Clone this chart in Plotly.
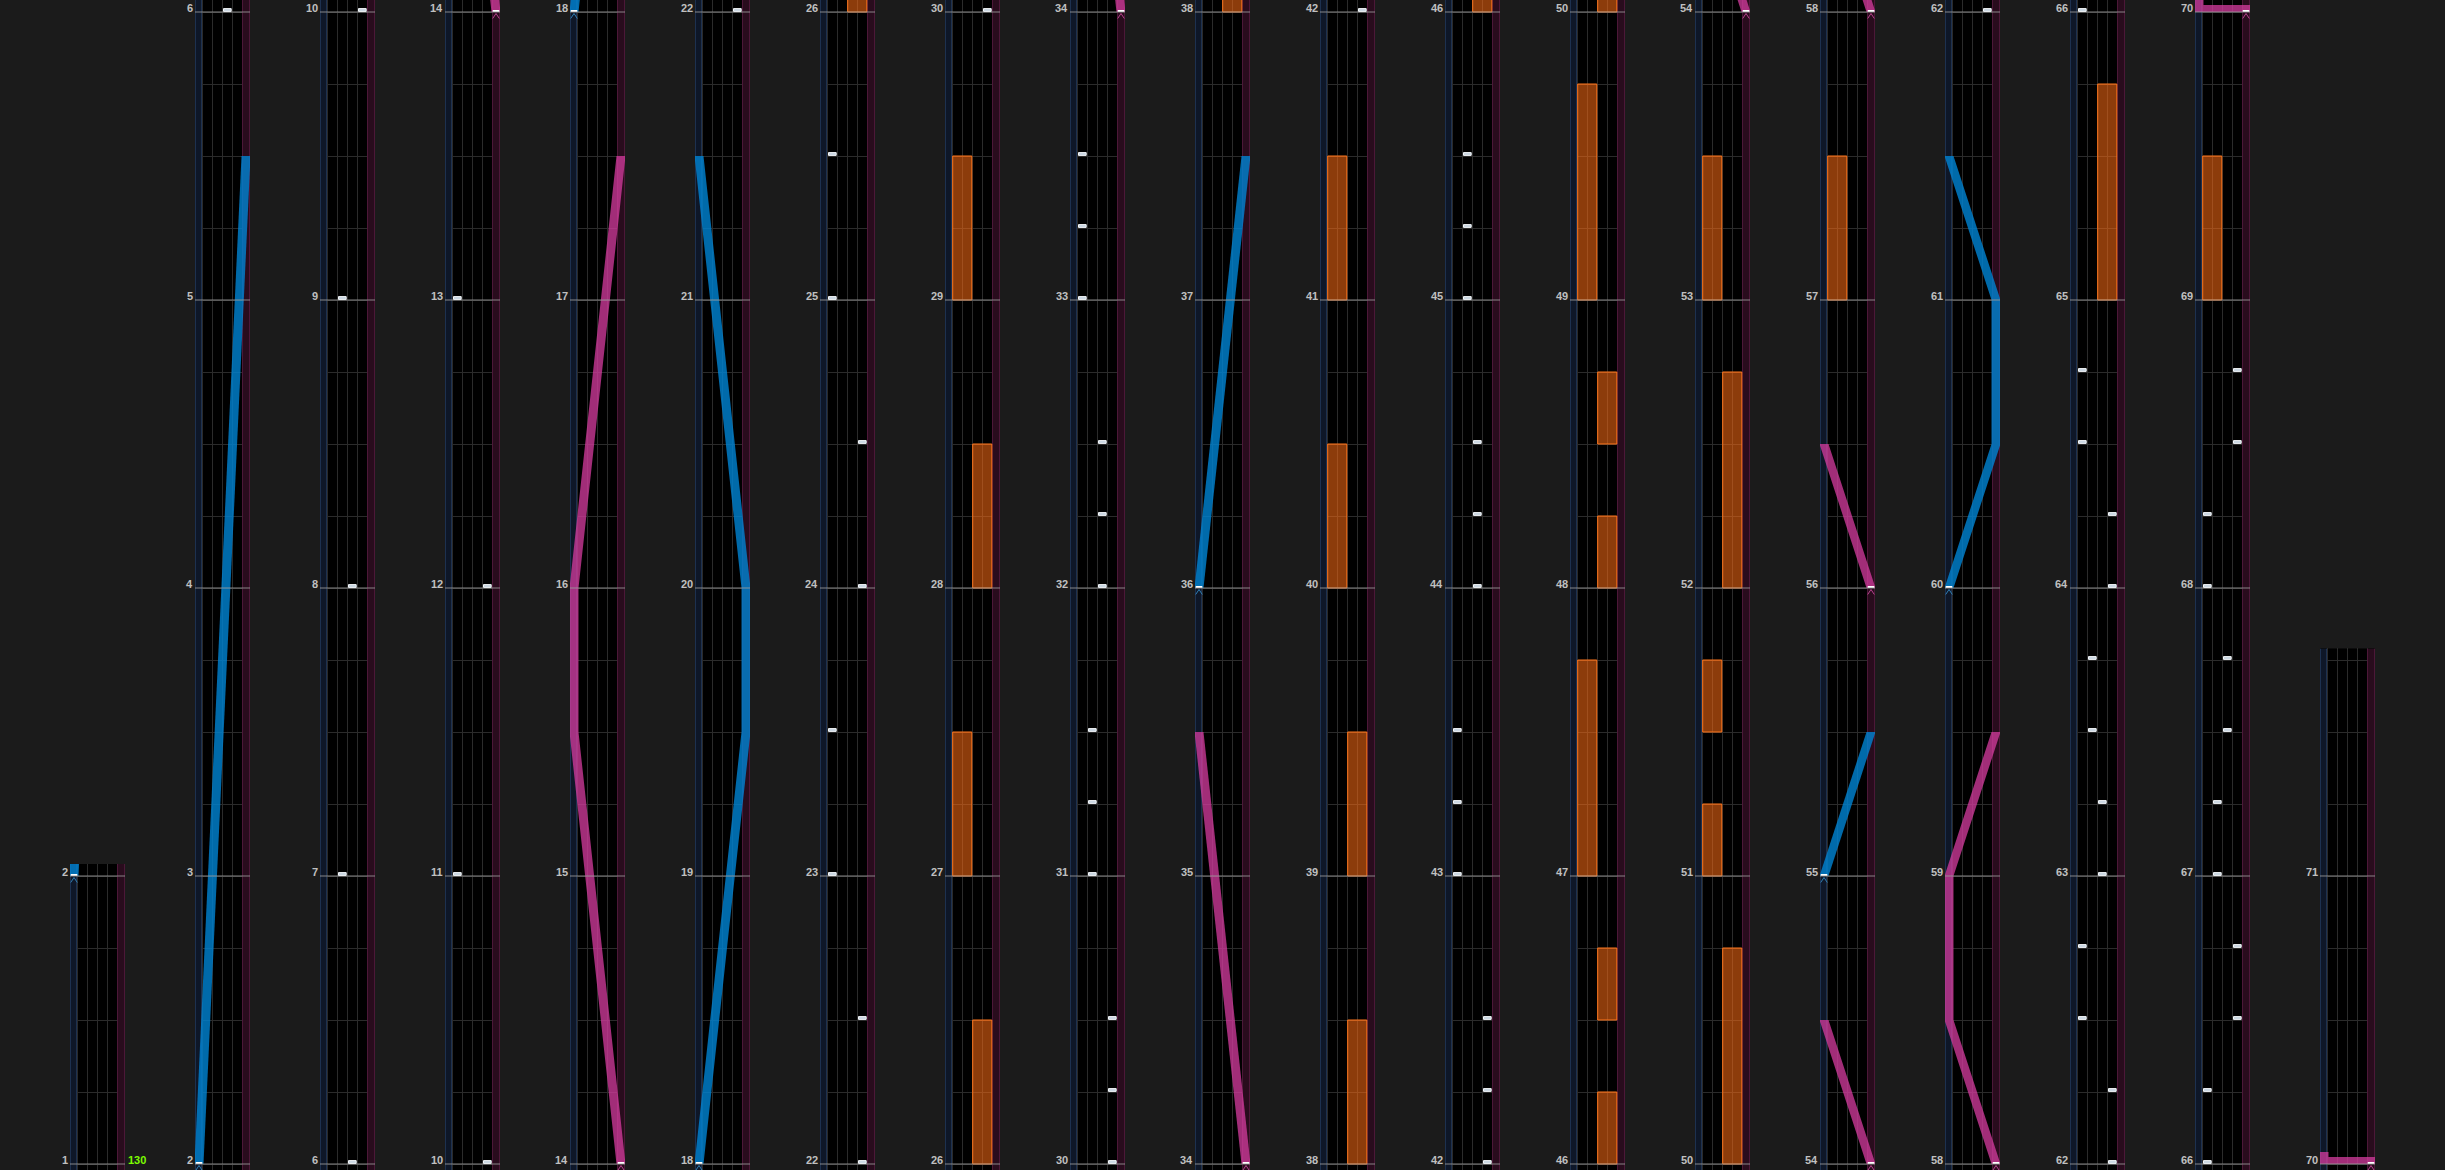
import plotly.graph_objects as go

# ---------------- data ----------------
# measure range shown by each column (bottom -> top)
col_start = [1, 2, 6, 10, 14, 18, 22, 26, 30, 34, 38, 42, 46, 50, 54, 58, 62, 66, 70]
col_end = [2, 6, 10, 14, 18, 22, 26, 30, 34, 38, 42, 46, 50, 54, 58, 62, 66, 70, 71.79]

# tempo label
bpm_measure = [1]
bpm_label = ["130"]

# BT chips: measure position and lane (0=A, 1=B, 2=C, 3=D)
bt_measure = [6, 7, 8, 9, 10, 11, 12, 13,
              22, 22.5, 23, 23.5, 24, 24.5, 25, 25.5,
              30, 30.25, 30.5, 31, 31.25, 31.5, 32, 32.25, 32.5, 33, 33.25, 33.5,
              42, 42.25, 42.5, 43, 43.25, 43.5, 44, 44.25, 44.5, 45, 45.25, 45.5,
              62, 62.25, 62.5, 62.75, 63, 63.25, 63.5, 63.75, 64, 64.25, 64.5, 64.75,
              66, 66.25, 66.5, 66.75, 67, 67.25, 67.5, 67.75, 68, 68.25, 68.5, 68.75]
bt_lane = [2, 1, 2, 1, 3, 0, 3, 0,
           3, 3, 0, 0, 3, 3, 0, 0,
           3, 3, 3, 1, 1, 1, 2, 2, 2, 0, 0, 0,
           3, 3, 3, 0, 0, 0, 2, 2, 2, 1, 1, 1,
           3, 3, 0, 0, 2, 2, 1, 1, 3, 3, 0, 0,
           0, 0, 3, 3, 1, 1, 2, 2, 0, 0, 3, 3]

# FX holds: start / end measure and side (0 = FX-L, 1 = FX-R)
fx_start = [26, 27, 28, 29, 38, 39, 40, 41, 46, 46.5, 47, 48, 48.5, 49,
            50, 51, 51.5, 52, 53, 57, 65, 69]
fx_end = [26.5, 27.5, 28.5, 29.5, 38.5, 39.5, 40.5, 41.5, 46.25, 46.75, 47.75, 48.25, 48.75, 49.75,
          50.75, 51.25, 51.75, 52.75, 53.5, 57.5, 65.75, 69.5]
fx_side = [1, 0, 1, 0, 1, 1, 0, 0, 1, 1, 0, 1, 1, 0,
           1, 0, 0, 1, 0, 0, 1, 0]

# lasers: measure points and knob positions (0 = left edge, 1 = right edge)
laser_l_m = [[2, 5.5], [18, 19.5, 20, 21.5], [36, 37.5], [55, 55.5], [60, 60.5, 61, 61.5]]
laser_l_p = [[0, 1], [0, 1, 1, 0], [0, 1], [0, 1], [0, 1, 1, 0]]
laser_r_m = [[14, 15.5, 16, 17.5], [34, 35.5], [54, 54.5], [56, 56.5], [58, 58.5, 59, 59.5],
             [70, 70, 70.0417]]
laser_r_p = [[1, 0, 0, 1], [1, 0], [1, 0], [1, 0], [1, 0, 0, 1], [1, 0, 0]]

# ---------------- style ----------------
W, H = 2445, 1170
PXM = 288.0                      # pixels per measure
COL_X0, COL_STEP, COL_W = 70, 125, 55
PAD_TOP, PAD_BOT = 12, 6
XL, XR = -0.7, 4.8               # lane units (BT lanes are 0..4)
HW = 0.45                        # laser half width
SLAM_H = 7 / PXM

BG = "#1b1b1b"
GRID = "#2b2b2b"
MEASURE_LINE = "rgba(155,155,155,0.85)"
LABEL = "#c0c0c0"
BLUE_FILL = "rgba(0,132,212,0.8)"
PINK_FILL = "rgba(215,60,160,0.75)"
BLUE_MARK = "#2f7fb5"
PINK_MARK = "#b8448f"
FX_FILL = "rgba(255,110,20,0.55)"
FX_LINE = "rgb(255,118,28)"
CHIP_FILL = "#c8d4e0"
CHIP_LINE = "#f4f7fa"
FONT = "Liberation Sans"


def xc(p):
    return -0.3 + 4.7 * p


def laser_poly(ms, ps):
    xs, ys = [], []
    for i in range(len(ms) - 1):
        ma, mb = ms[i], ms[i + 1]
        xa, xb = xc(ps[i]), xc(ps[i + 1])
        if mb == ma:
            lo, hi = min(xa, xb) - HW, max(xa, xb) + HW
            xs += [lo, hi, hi, lo, lo, None]
            ys += [ma, ma, ma + SLAM_H, ma + SLAM_H, ma, None]
        else:
            xs += [xa - HW, xa + HW, xb + HW, xb - HW, xa - HW, None]
            ys += [ma, ma, mb, mb, ma, None]
    return xs, ys


fig = go.Figure()
layout = {}
shapes = []
annotations = []

for k, (s, e) in enumerate(zip(col_start, col_end)):
    last = k == len(col_start) - 1
    lo = s - PAD_BOT / PXM
    hi = e if last else e + PAD_TOP / PXM
    px0 = COL_X0 + COL_STEP * k
    sfx = "" if k == 0 else str(k + 1)
    xr, yr = "x" + sfx, "y" + sfx
    ytop = min(1.0, (hi - lo) * PXM / H)

    layout["xaxis" + sfx] = dict(domain=[px0 / W, (px0 + COL_W) / W], range=[XL, XR], anchor=yr,
                                 tick0=0, dtick=1, showgrid=True, gridcolor=GRID, gridwidth=1,
                                 zeroline=False, showticklabels=False, ticks="", showline=False,
                                 fixedrange=True)
    layout["yaxis" + sfx] = dict(domain=[0, ytop], range=[lo, hi], anchor=xr,
                                 tick0=0, dtick=0.25, showgrid=True, gridcolor=GRID, gridwidth=1,
                                 zeroline=False, showticklabels=False, ticks="", showline=False,
                                 fixedrange=True)

    # laser lanes background and edges
    shapes.append(dict(type="rect", xref=xr, yref=yr, x0=XL, x1=0, y0=lo, y1=hi,
                       fillcolor="#0e1728", line=dict(width=0), layer="between"))
    shapes.append(dict(type="rect", xref=xr, yref=yr, x0=4, x1=XR, y0=lo, y1=hi,
                       fillcolor="#290c1d", line=dict(width=0), layer="between"))
    for xe, col in [(XL + 0.05, "#1d3150"), (-0.05, "#1d3150"), (4.05, "#4c1838"), (XR - 0.05, "#4c1838")]:
        shapes.append(dict(type="line", xref=xr, yref=yr, x0=xe, x1=xe, y0=lo, y1=hi,
                           line=dict(color=col, width=1), layer="between"))

    def inside(a, b):
        return b >= lo - 0.02 and a <= hi + 0.02

    # FX holds
    fxx, fxy = [], []
    for a, b, sd in zip(fx_start, fx_end, fx_side):
        if inside(a, b):
            x0, x1 = sd * 2 + 0.07, sd * 2 + 1.98
            fxx += [x0, x1, x1, x0, x0, None]
            fxy += [a, a, b, b, a, None]
    if fxx:
        fig.add_trace(go.Scatter(x=fxx, y=fxy, xaxis=xr, yaxis=yr, mode="lines", fill="toself",
                                 fillcolor=FX_FILL, line=dict(color=FX_LINE, width=1),
                                 hoverinfo="skip", showlegend=False))

    # lasers
    for mlist, plist, fillc, markc in [(laser_l_m, laser_l_p, BLUE_FILL, BLUE_MARK),
                                       (laser_r_m, laser_r_p, PINK_FILL, PINK_MARK)]:
        lx, ly, cx, cy, sx, sy = [], [], [], [], [], []
        for ms, ps in zip(mlist, plist):
            if not inside(min(ms) - 8 / PXM, max(ms) + SLAM_H):
                continue
            px_, py_ = laser_poly(ms, ps)
            lx += px_
            ly += py_
            c = xc(ps[0])
            cx += [c - 0.33, c, c + 0.33, None]
            cy += [ms[0] - 6.5 / PXM, ms[0] - 1.5 / PXM, ms[0] - 6.5 / PXM, None]
            sx += [c - 0.33, c + 0.33, None]
            sy += [ms[0] + 1 / PXM, ms[0] + 1 / PXM, None]
        if lx:
            fig.add_trace(go.Scatter(x=lx, y=ly, xaxis=xr, yaxis=yr, mode="lines", fill="toself",
                                     fillcolor=fillc, line=dict(width=0),
                                     hoverinfo="skip", showlegend=False))
            fig.add_trace(go.Scatter(x=cx, y=cy, xaxis=xr, yaxis=yr, mode="lines",
                                     line=dict(color=markc, width=1),
                                     hoverinfo="skip", showlegend=False))
            fig.add_trace(go.Scatter(x=sx, y=sy, xaxis=xr, yaxis=yr, mode="lines",
                                     line=dict(color="#ffffff", width=2),
                                     hoverinfo="skip", showlegend=False))

    # measure lines and labels
    mx, my = [], []
    m = int(s)
    while m <= e:
        mx += [XL, XR, None]
        my += [m, m, None]
        annotations.append(dict(x=XL, y=m, xref=xr, yref=yr, text=str(m), showarrow=False,
                                xanchor="right", yanchor="middle", xshift=-0.5, yshift=4,
                                font=dict(family=FONT, size=11, color=LABEL, weight="bold")))
        m += 1
    fig.add_trace(go.Scatter(x=mx, y=my, xaxis=xr, yaxis=yr, mode="lines",
                             line=dict(color=MEASURE_LINE, width=1),
                             hoverinfo="skip", showlegend=False))

    # BT chips
    bx, by = [], []
    for bm, bl in zip(bt_measure, bt_lane):
        if lo <= bm <= hi:
            x0, x1 = bl + 0.15, bl + 0.92
            y0, y1 = bm + 0.6 / PXM, bm + 3.4 / PXM
            bx += [x0, x1, x1, x0, x0, None]
            by += [y0, y0, y1, y1, y0, None]
    if bx:
        fig.add_trace(go.Scatter(x=bx, y=by, xaxis=xr, yaxis=yr, mode="lines", fill="toself",
                                 fillcolor=CHIP_FILL, line=dict(color=CHIP_LINE, width=1),
                                 hoverinfo="skip", showlegend=False))

    # tempo labels
    for bm, bt in zip(bpm_measure, bpm_label):
        if lo <= bm <= hi:
            annotations.append(dict(x=XR, y=bm, xref=xr, yref=yr, text=bt, showarrow=False,
                                    xanchor="left", yanchor="middle", xshift=0.5, yshift=4,
                                    font=dict(family=FONT, size=11, color="#7cfc00", weight="bold")))

fig.update_layout(**layout)
fig.update_layout(width=W, height=H, autosize=False,
                  margin=dict(l=0, r=0, t=0, b=0, pad=0),
                  paper_bgcolor=BG, plot_bgcolor="#000000",
                  showlegend=False, shapes=shapes, annotations=annotations,
                  hovermode=False)

fig.write_html("out.html", config={"displayModeBar": False})
